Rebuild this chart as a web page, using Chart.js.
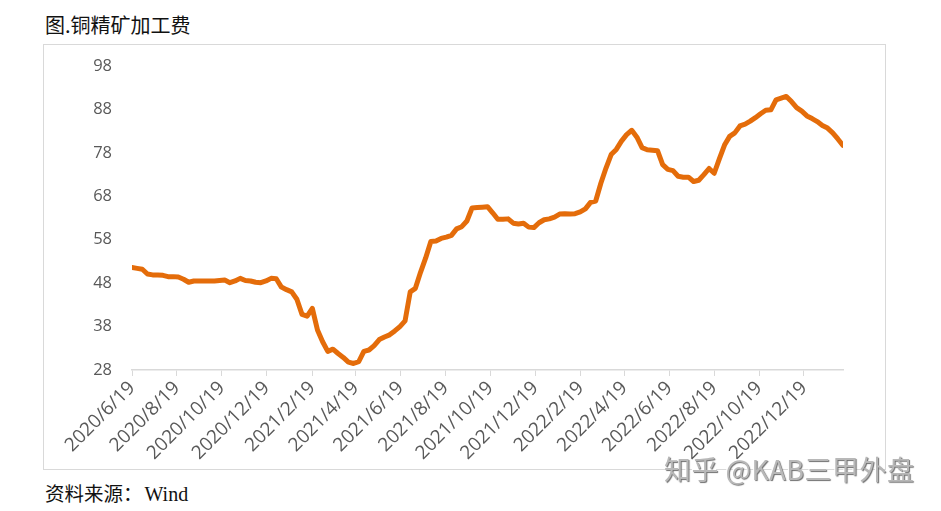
<!DOCTYPE html>
<html>
<head>
<meta charset="utf-8">
<script src="https://cdn.jsdelivr.net/npm/chart.js@4/dist/chart.umd.min.js"></script>
<style>
  html, body { margin:0; padding:0; background:#fff; width:941px; height:511px; overflow:hidden; position:relative; }
  #title { position:absolute; left:45px; top:11px; font-family:"Noto Sans CJK SC"; font-size:20px; color:#111; line-height:28px; white-space:nowrap; }
  #box { position:absolute; left:43px; top:44px; width:841px; height:424px; border:1px solid #d9d9d9; }
  #wrap { position:absolute; left:44px; top:45px; width:841px; height:424px; }
  #src { position:absolute; left:45px; top:480px; color:#111; line-height:26px; white-space:nowrap; }
  #src .cn { font-family:"Noto Sans CJK SC"; font-size:19.5px; }
  #src .en { font-family:"Liberation Serif"; font-size:20px; margin-left:2px; }
  #wm { position:absolute; left:664px; top:451px; font-family:"Noto Sans CJK SC"; font-size:27px; letter-spacing:0.5px; line-height:36px; color:#b8b8b8; text-shadow:1px 1px 1px #707070, -1px -1px 0 #fff; white-space:nowrap; }
</style>
</head>
<body>
<div id="title">图.铜精矿加工费</div>
<div id="box"></div>
<div id="wrap"><canvas id="c" width="841" height="424"></canvas></div>
<div id="src"><span class="cn">资料来源：</span><span class="en">Wind</span></div>
<div id="wm">知乎 @KAB三甲外盘</div>
<script>
const dates = [
  "2020/6/19","2020/6/26","2020/7/3","2020/7/10","2020/7/17","2020/7/24","2020/7/31","2020/8/7","2020/8/14","2020/8/21",
  "2020/8/28","2020/9/4","2020/9/11","2020/9/18","2020/9/25","2020/10/2","2020/10/9","2020/10/16","2020/10/23","2020/10/30",
  "2020/11/6","2020/11/13","2020/11/20","2020/11/27","2020/12/4","2020/12/11","2020/12/18","2020/12/25",
  "2021/1/1","2021/1/8","2021/1/15","2021/1/22","2021/1/29","2021/2/5","2021/2/12","2021/2/19","2021/2/26","2021/3/5",
  "2021/3/12","2021/3/19","2021/3/26","2021/4/2","2021/4/9","2021/4/16","2021/4/23","2021/4/30","2021/5/7","2021/5/14",
  "2021/5/21","2021/5/28","2021/6/4","2021/6/11","2021/6/18","2021/6/25","2021/7/2","2021/7/9","2021/7/16","2021/7/23",
  "2021/7/30","2021/8/6","2021/8/13","2021/8/20","2021/8/27","2021/9/3","2021/9/10","2021/9/17","2021/9/24","2021/10/1",
  "2021/10/8","2021/10/15","2021/10/22","2021/10/29","2021/11/5","2021/11/12","2021/11/19","2021/11/26","2021/12/3","2021/12/10",
  "2021/12/17","2021/12/24","2021/12/31",
  "2022/1/7","2022/1/14","2022/1/21","2022/1/28","2022/2/4","2022/2/11","2022/2/18","2022/2/25","2022/3/4","2022/3/11",
  "2022/3/18","2022/3/25","2022/4/1","2022/4/8","2022/4/15","2022/4/22","2022/4/29","2022/5/6","2022/5/13","2022/5/20",
  "2022/5/27","2022/6/3","2022/6/10","2022/6/17","2022/6/24","2022/7/1","2022/7/8","2022/7/15","2022/7/22","2022/7/29",
  "2022/8/5","2022/8/12","2022/8/19","2022/8/26","2022/9/2","2022/9/9","2022/9/16","2022/9/23","2022/9/30","2022/10/7",
  "2022/10/14","2022/10/21","2022/10/28","2022/11/4","2022/11/11","2022/11/18","2022/11/25","2022/12/2","2022/12/9","2022/12/16",
  "2022/12/23","2022/12/30",
  "2023/1/6","2023/1/13","2023/1/20","2023/1/27","2023/2/3","2023/2/10"
];
const tcValues = [
  51.6,51.4,51.2,50.1,49.9,49.9,49.8,49.5,49.5,49.4,
  48.9,48.2,48.5,48.5,48.5,48.5,48.5,48.6,48.7,48.1,
  48.5,49.1,48.6,48.5,48.2,48.1,48.5,49.1,
  49.0,47.1,46.5,46.0,44.3,40.8,40.4,42.2,37.2,34.5,
  32.3,32.8,31.8,30.9,29.8,29.5,29.9,32.3,32.6,33.6,
  35.0,35.6,36.1,37.0,38.0,39.3,46.0,46.8,50.5,53.8,
  57.6,57.7,58.3,58.6,59.0,60.5,61.0,62.3,65.3,65.4,
  65.5,65.6,64.2,62.7,62.7,62.8,61.8,61.6,61.8,60.9,
  60.8,61.9,62.6,
  62.8,63.2,63.9,64.0,63.9,64.0,64.4,65.1,66.6,66.9,
  71.0,74.5,77.6,78.8,80.7,82.2,83.2,81.6,79.2,78.7,
  78.6,78.5,75.3,74.2,73.9,72.6,72.4,72.4,71.4,71.7,
  73.0,74.4,73.3,76.6,79.8,81.8,82.6,84.2,84.6,85.3,
  86.1,87.0,87.8,87.9,90.2,90.6,91.0,89.8,88.4,87.6,
  86.5,85.9,
  85.2,84.3,83.7,82.6,81.2,79.7
];
const tickLabels = [
  "2020/6/19","2020/8/19","2020/10/19","2020/12/19","2021/2/19","2021/4/19","2021/6/19","2021/8/19",
  "2021/10/19","2021/12/19","2022/2/19","2022/4/19","2022/6/19","2022/8/19","2022/10/19","2022/12/19"
];
const yTicks = [28, 38, 48, 58, 68, 78, 88, 98];

function toDay(s) {
  const p = s.split("/").map(Number);
  return Math.round((Date.UTC(p[0], p[1]-1, p[2]) - Date.UTC(2020, 5, 19)) / 86400000);
}
const points = dates.map((d, i) => ({ x: toDay(d), y: tcValues[i] }));
const tickDays = tickLabels.map(toDay);

new Chart(document.getElementById("c"), {
  type: "line",
  data: {
    datasets: [{
      data: points,
      borderColor: "#E46C0A",
      borderWidth: 5,
      pointRadius: 0,
      tension: 0,
      fill: false,
      borderJoinStyle: "round",
      borderCapStyle: "round"
    }]
  },
  options: {
    responsive: false,
    animation: false,
    layout: { padding: { top: 21, right: 42, bottom: 0, left: 0 } },
    plugins: { legend: { display: false }, tooltip: { enabled: false } },
    scales: {
      x: {
        type: "linear",
        min: 0,
        max: points[points.length - 1].x,
        afterBuildTicks: (scale) => { scale.ticks = tickDays.map(v => ({ value: v })); },
        afterFit: (scale) => { scale.height = 99; },
        ticks: {
          autoSkip: false,
          minRotation: 45,
          maxRotation: 45,
          padding: 1,
          color: "#595959",
          font: { family: "Open Sans", size: 19 },
          callback: (v, i) => tickLabels[i]
        },
        grid: { drawOnChartArea: false, drawTicks: true, tickLength: 6, color: "#d9d9d9", lineWidth: 1 },
        border: { display: true, color: "#d9d9d9", width: 1.5 }
      },
      y: {
        min: yTicks[0],
        max: yTicks[yTicks.length - 1],
        afterBuildTicks: (scale) => { scale.ticks = yTicks.map(v => ({ value: v })); },
        afterFit: (scale) => { scale.width = 88; },
        ticks: { color: "#595959", font: { family: "Open Sans", size: 16.5 }, padding: 4 },
        grid: { display: false, drawTicks: true, tickLength: 16 },
        border: { display: false }
      }
    }
  }
});
</script>
</body>
</html>
